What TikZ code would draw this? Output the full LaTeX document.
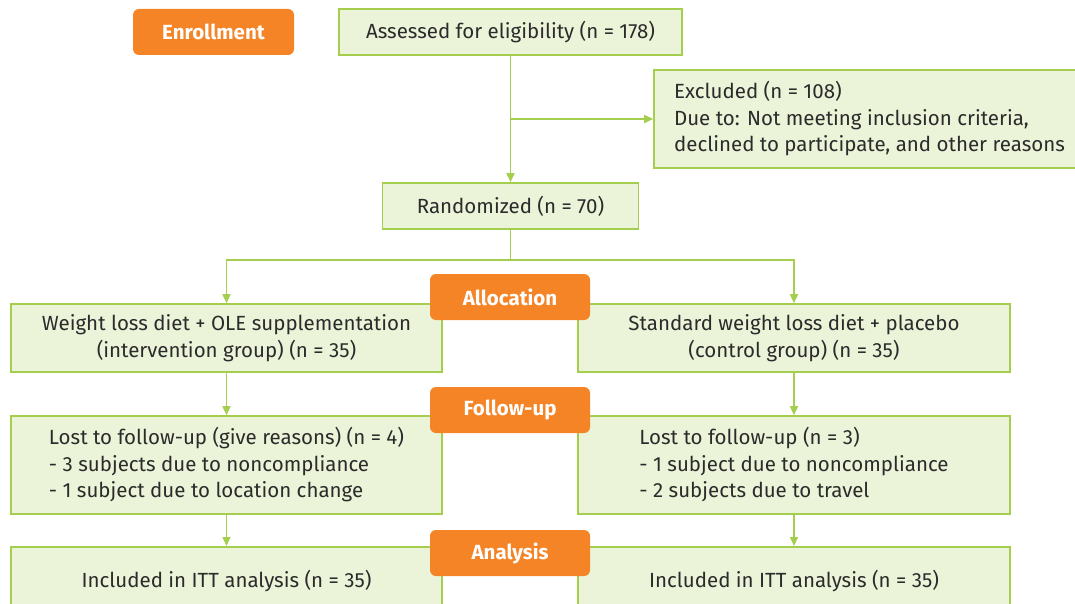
\documentclass[tikz,border=0pt]{standalone}
\usepackage{fontspec}
\setmainfont{Fira Sans}
\usetikzlibrary{arrows.meta,calc}
\definecolor{gfill}{HTML}{EBF4D8}
\definecolor{gline}{HTML}{A6CE4E}
\definecolor{orng}{HTML}{F58426}
\definecolor{txt}{HTML}{2B2B2B}
\begin{document}
\begin{tikzpicture}[x=1pt,y=-1pt,
  gbox/.style={draw=gline,fill=gfill,line width=1.6pt,inner sep=0pt,font=\fontsize{20.5}{26.5}\selectfont,text=txt,anchor=center},
  obox/.style={fill=orng,rounded corners=6pt,inner sep=0pt,minimum width=160pt,minimum height=46pt,font=\fontsize{20.5}{22}\selectfont\bfseries,text=white},
  lnk/.style={draw=gline,line width=1.6pt},
  arr/.style={lnk,-{Triangle[length=9pt,width=8pt]}}]
\useasboundingbox (0,0) rectangle (1075,604);
\clip (0,0) rectangle (1075,604);
% green boxes
\node[gbox,minimum width=343pt,minimum height=46pt] (assess) at (510.5,32) {Assessed for eligibility (n = 178)};
\node[gbox,minimum width=431pt,minimum height=98pt,align=left] (excl) at (869.5,119) {Excluded (n = 108)\\Due to: Not meeting inclusion criteria,\\declined to participate, and other reasons};
\node[gbox,minimum width=256pt,minimum height=46pt] (rand) at (510.5,206) {Randomized (n = 70)};
\node[gbox,minimum width=431pt,minimum height=68pt,align=center] (intv) at (226.5,338) {Weight loss diet + OLE supplementation\\(intervention group) (n = 35)};
\node[gbox,minimum width=432pt,minimum height=68pt,align=center] (ctrl) at (794,338) {Standard weight loss diet + placebo\\(control group) (n = 35)};
\node[gbox,minimum width=431pt,minimum height=98pt,align=left] (lostl) at (226.5,465) {Lost to follow-up (give reasons) (n = 4)\\- 3 subjects due to noncompliance\\- 1 subject due to location change};
\node[gbox,minimum width=432pt,minimum height=98pt,align=left] (lostr) at (794,465) {Lost to follow-up (n = 3)\\- 1 subject due to noncompliance\\- 2 subjects due to travel};
\node[gbox,minimum width=431pt,minimum height=80pt,anchor=north] (incl) at (226.5,546) {};
\node[gbox,minimum width=432pt,minimum height=80pt,anchor=north] (incr) at (794,546) {};
\node[font=\fontsize{20.5}{22}\selectfont,text=txt] (incltxt) at (226.5,581) {Included in ITT analysis (n = 35)};
\node[font=\fontsize{20.5}{22}\selectfont,text=txt] (incrtxt) at (794,581) {Included in ITT analysis (n = 35)};
% connectors
\draw[arr] (assess.south) -- (rand.north);
\draw[arr] (assess.south |- excl.west) -- (excl.west);
\draw[lnk] (rand.south) -- ++(0,30) coordinate (split);
\draw[arr] (split) -| (intv.north);
\draw[arr] (split) -| (ctrl.north);
\draw[arr] (intv.south) -- (lostl.north);
\draw[arr] (ctrl.south) -- (lostr.north);
\draw[arr] (lostl.south) -- (incl.north);
\draw[arr] (lostr.south) -- (incr.north);
% orange labels
\node[obox,minimum width=161pt] (enrol) at (213.5,32) {Enrollment};
\node[obox] (alloc) at (510,297) {Allocation};
\node[obox] (follow) at (510,410) {Follow-up};
\node[obox] (anal) at (510,553) {Analysis};
\end{tikzpicture}
\end{document}
